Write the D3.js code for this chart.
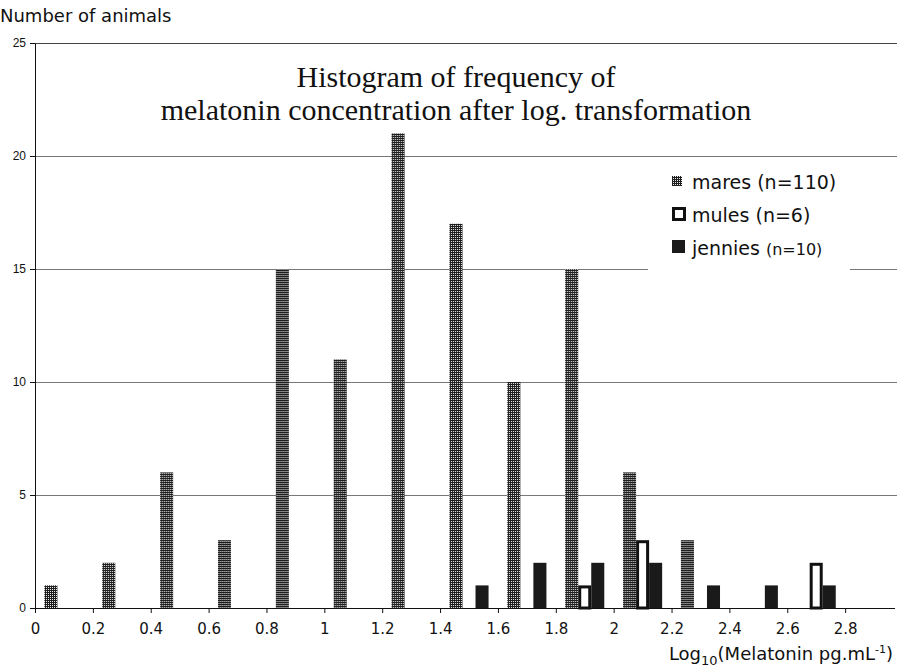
<!DOCTYPE html>
<html>
<head>
<meta charset="utf-8">
<script src="https://cdn.jsdelivr.net/npm/d3@7"></script>
<style>
  body { margin: 0; background: #fff; }
  svg { display: block; }
</style>
</head>
<body>
<svg class="chart"></svg>
<script>
// bins (left edge of each 0.2 wide class)
var bins = [0, 0.2, 0.4, 0.6, 0.8, 1.0, 1.2, 1.4, 1.6, 1.8, 2.0, 2.2, 2.4, 2.6, 2.8];
var series = ["mares", "mules", "jennies"];
var mares   = [1, 2, 6, 3, 15, 11, 21, 17, 10, 15, 6, 3, 0, 0, 0];
var mules   = [0, 0, 0, 0, 0, 0, 0, 0, 0, 1, 3, 0, 0, 2, 0];
var jennies = [0, 0, 0, 0, 0, 0, 0, 1, 2, 2, 2, 1, 1, 1, 0];
var yTicks = [0, 5, 10, 15, 20, 25];
var xTicks = [0, 0.2, 0.4, 0.6, 0.8, 1, 1.2, 1.4, 1.6, 1.8, 2, 2.2, 2.4, 2.6, 2.8];
var legendLabels = [
  { key: "mares", text: "mares", n: "(n=110)" },
  { key: "mules", text: "mules", n: "(n=6)" },
  { key: "jennies", text: "jennies", n: "(n=10)" }
];

var width = 897, height = 670;

var svg = d3.select(".chart").attr("width", width).attr("height", height);

// checkered fill used for the mares
var defs = svg.append("defs");
var pat = defs.append("pattern")
    .attr("id", "check")
    .attr("patternUnits", "userSpaceOnUse")
    .attr("width", 2).attr("height", 2);
pat.append("rect").attr("width", 2).attr("height", 2).attr("fill", "#1e1e1e");
pat.append("rect").attr("x", 1).attr("y", 1).attr("width", 1).attr("height", 1).attr("fill", "#e8e8e8");

var x = d3.scaleLinear().domain([0, 3]).range([35, 903]);
var y = d3.scaleLinear().domain([0, 25]).range([608, 43]);
var binW = x(0.2) - x(0);
var xs = d3.scaleBand().domain(series).range([0, binW]).paddingInner(0).paddingOuter(0.72);

// gridlines
svg.append("g")
  .selectAll("line")
  .data(yTicks.filter(function(d) { return d > 0; }))
  .enter().append("line")
    .attr("x1", x(0)).attr("x2", width)
    .attr("y1", function(d) { return y(d) + 0.5; })
    .attr("y2", function(d) { return y(d) + 0.5; })
    .attr("stroke", function(d) { return d === 25 ? "#444" : "#777"; })
    .attr("stroke-width", 1);

// title
var title = svg.append("g")
    .style("font-family", "'Liberation Serif', 'Times New Roman', serif")
    .style("font-size", "30px")
    .attr("fill", "#111")
    .attr("text-anchor", "middle");
title.append("text").attr("x", 456).attr("y", 87).text("Histogram of frequency of");
title.append("text").attr("x", 456).attr("y", 120).text("melatonin concentration after log. transformation");

// legend (white box hides the gridline behind it)
var legend = svg.append("g");
legend.append("rect").attr("x", 648).attr("y", 163).attr("width", 202).attr("height", 112).attr("fill", "#fff");
var ly = [181, 214, 247];
legendLabels.forEach(function(d, i) {
  var g = legend.append("g").attr("transform", "translate(672," + ly[i] + ")");
  if (d.key === "mares") {
    g.append("rect").attr("x", 0).attr("y", -5).attr("width", 10).attr("height", 10).attr("fill", "url(#check)");
  } else if (d.key === "mules") {
    g.append("rect").attr("x", 1.5).attr("y", -5.5).attr("width", 11).attr("height", 11)
      .attr("fill", "#fff").attr("stroke", "#111").attr("stroke-width", 3);
  } else {
    g.append("rect").attr("x", 0).attr("y", -7).attr("width", 13).attr("height", 13).attr("fill", "#1a1a1a");
  }
  var t = g.append("text")
      .attr("x", 20).attr("y", 8)
      .style("font-family", "'DejaVu Sans', Verdana, sans-serif")
      .style("font-size", "19px")
      .attr("fill", "#111");
  t.append("tspan").text(d.text + " ");
  t.append("tspan").style("font-size", d.key === "jennies" ? "16px" : "19px").text(d.n);
});

// bars
var rows = bins.map(function(b, i) {
  return { bin: b, mares: mares[i], mules: mules[i], jennies: jennies[i] };
});
var group = svg.append("g").selectAll("g")
    .data(rows)
    .enter().append("g")
    .attr("transform", function(d) { return "translate(" + x(d.bin) + ",0)"; });

group.selectAll("rect")
    .data(function(d) {
      return series.map(function(s) { return { key: s, value: d[s] }; })
        .filter(function(e) { return e.value > 0; });
    })
    .enter().append("rect")
    .attr("x", function(d) { return d.key === "mules" ? xs(d.key) + 1.5 : xs(d.key); })
    .attr("width", function(d) { return d.key === "mules" ? xs.bandwidth() - 3 : xs.bandwidth(); })
    .attr("y", function(d) { return d.key === "mules" ? y(d.value) + 1.5 : y(d.value); })
    .attr("height", function(d) { return d.key === "mules" ? y(0) - y(d.value) - 1.5 : y(0) - y(d.value); })
    .attr("fill", function(d) {
      if (d.key === "mares") return "url(#check)";
      if (d.key === "mules") return "#fff";
      return "#1a1a1a";
    })
    .attr("stroke", function(d) { return d.key === "mules" ? "#111" : "none"; })
    .attr("stroke-width", 3);

// axes
var yAxis = d3.axisLeft(y).tickValues(yTicks).tickSize(5).tickSizeOuter(0);
var yG = svg.append("g").attr("transform", "translate(" + x(0) + ",0)").call(yAxis);
yG.select(".domain").attr("stroke", "#111");
yG.selectAll(".tick line").attr("stroke", "#111");
yG.selectAll("text")
    .style("font-family", "'Liberation Sans', Arial, sans-serif")
    .style("font-size", "12px")
    .attr("fill", "#111")
    .attr("x", -9);

var xAxis = d3.axisBottom(x).tickValues(xTicks).tickSize(5).tickSizeOuter(0)
    .tickFormat(function(d) { return d3.format("")(+d.toFixed(1)); });
var xG = svg.append("g").attr("transform", "translate(0," + y(0) + ")").call(xAxis);
xG.select(".domain").attr("d", "M" + x(0) + ",0.5H895").attr("stroke", "#111");
xG.selectAll(".tick line").attr("stroke", "#111");
xG.selectAll("text")
    .style("font-family", "'DejaVu Sans', Verdana, sans-serif")
    .style("font-size", "15px")
    .attr("fill", "#111")
    .attr("y", 15);

// axis titles
svg.append("text")
    .attr("x", 0).attr("y", 22)
    .style("font-family", "'DejaVu Sans', Verdana, sans-serif")
    .style("font-size", "18px")
    .attr("fill", "#111")
    .text("Number of animals");

var xt = svg.append("text")
    .attr("x", 893).attr("y", 660)
    .attr("text-anchor", "end")
    .style("font-family", "'DejaVu Sans', Verdana, sans-serif")
    .style("font-size", "18px")
    .attr("fill", "#111");
xt.append("tspan").text("Log");
xt.append("tspan").attr("dy", 5).style("font-size", "13px").text("10");
xt.append("tspan").attr("dy", -5).text("(Melatonin pg.mL");
xt.append("tspan").attr("dy", -7).style("font-size", "11px").text("-1");
xt.append("tspan").attr("dy", 7).text(")");
</script>
</body>
</html>
